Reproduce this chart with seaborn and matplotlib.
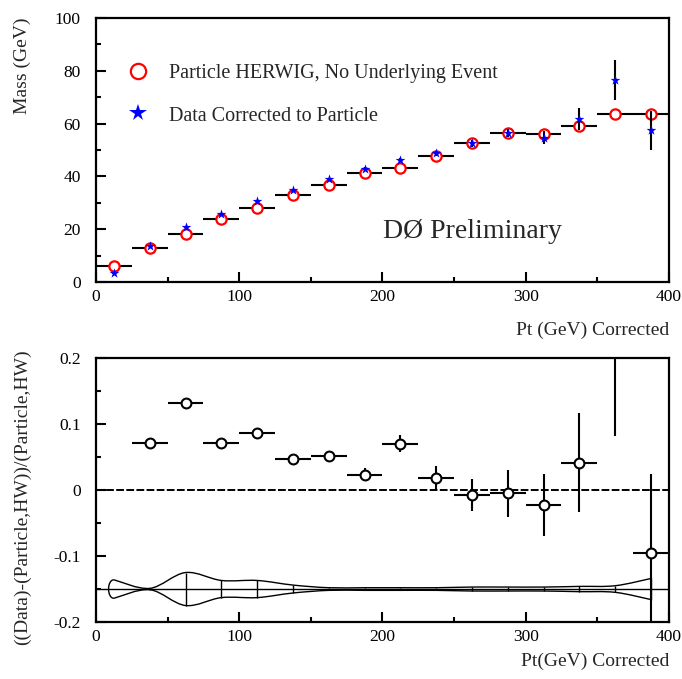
import matplotlib
matplotlib.use("Agg")
import matplotlib.pyplot as plt
import seaborn as sns
from matplotlib.lines import Line2D
from matplotlib.path import Path
from matplotlib.patches import PathPatch
from matplotlib.ticker import MultipleLocator

# bins in Pt (GeV), 25 GeV wide
pt_centers = [12.5, 37.5, 62.5, 87.5, 112.5, 137.5, 162.5, 187.5,
              212.5, 237.5, 262.5, 287.5, 312.5, 337.5, 362.5, 387.5]
bin_half = 12.5

herwig_mass = [6.2, 12.8, 18.3, 23.9, 27.9, 33.0, 36.7, 41.4,
               43.1, 47.7, 52.8, 56.6, 55.9, 59.2, 63.8, 63.5]
data_mass = [3.3, 13.8, 20.9, 25.6, 30.7, 34.7, 38.9, 42.7,
             46.2, 48.7, 52.5, 56.3, 54.7, 61.7, 76.4, 57.5]
data_mass_err = [0.3, 0.3, 0.4, 0.4, 0.5, 0.5, 0.6, 0.7,
                 0.8, 1.0, 1.2, 1.5, 2.5, 4.3, 7.6, 7.4]

# (Data - Particle)/Particle, first bin is off scale
ratio_pt = pt_centers[1:]
ratio = [0.071, 0.132, 0.071, 0.087, 0.047, 0.052, 0.023, 0.070,
         0.018, -0.008, -0.005, -0.022, 0.041, 0.21, -0.096]
ratio_err = [0.004, 0.004, 0.004, 0.005, 0.005, 0.006, 0.010, 0.013,
             0.018, 0.024, 0.036, 0.047, 0.075, 0.128, 0.120]

# systematic band drawn around -0.15
sys_base = -0.15
sys_half = [0.014, 0.001, 0.025, 0.013, 0.013, 0.006, 0.002, 0.002,
            0.002, 0.002, 0.003, 0.003, 0.003, 0.004, 0.005, 0.016]


def smooth_path(xs, ys):
    # cubic bezier segments through the points (catmull-rom style handles)
    verts = [(xs[0], ys[0])]
    codes = [Path.MOVETO]
    n = len(xs)
    for i in range(n - 1):
        x0, y0 = xs[max(i - 1, 0)], ys[max(i - 1, 0)]
        x3, y3 = xs[min(i + 2, n - 1)], ys[min(i + 2, n - 1)]
        verts += [(xs[i] + (xs[i + 1] - x0) / 6, ys[i] + (ys[i + 1] - y0) / 6),
                  (xs[i + 1] - (x3 - xs[i]) / 6, ys[i + 1] - (y3 - ys[i]) / 6),
                  (xs[i + 1], ys[i + 1])]
        codes += [Path.CURVE4] * 3
    return verts, codes


sns.set_style("ticks")
plt.rcParams["font.family"] = ["Liberation Serif", "DejaVu Serif"]

fig = plt.figure(figsize=(6.82, 6.79), dpi=100)
ax1 = fig.add_axes([0.1408, 0.5847, 0.840, 0.3888])
ax2 = fig.add_axes([0.1408, 0.0839, 0.840, 0.3888])

for ax in (ax1, ax2):
    ax.set_xlim(0, 400)
    ax.xaxis.set_major_locator(MultipleLocator(100))
    ax.xaxis.set_minor_locator(MultipleLocator(50))
    ax.tick_params(which="both", direction="in", top=False, right=False, width=1.5,
                   labelsize=12.5, colors="black")
    ax.tick_params(which="major", length=7)
    ax.tick_params(which="minor", length=3.5)
    ax.tick_params(axis="y", pad=11)
    ax.tick_params(axis="x", pad=5)
    for s in ax.spines.values():
        s.set_linewidth(1.6)
        s.set_color("black")

# ---- top panel
ax1.set_ylim(0, 100)
ax1.yaxis.set_major_locator(MultipleLocator(20))
ax1.yaxis.set_minor_locator(MultipleLocator(10))

ax1.errorbar(pt_centers, herwig_mass, xerr=bin_half, fmt="none", ecolor="black", elinewidth=1.5, zorder=2)
sns.scatterplot(x=pt_centers, y=herwig_mass, ax=ax1, marker="o", s=55, facecolor="white",
                edgecolor="red", linewidth=1.6, zorder=3)
ax1.errorbar(pt_centers, data_mass, yerr=data_mass_err, fmt="none", ecolor="black", elinewidth=1.5, zorder=3.5)
sns.scatterplot(x=pt_centers, y=data_mass, ax=ax1, marker="*", s=55, color="blue",
                linewidth=0, zorder=4)

handles = [
    Line2D([], [], ls="none", marker="o", ms=11, mfc="white", mec="red", mew=1.6),
    Line2D([], [], ls="none", marker="*", ms=13, color="blue", mew=0),
]
ax1.legend(handles, ["Particle HERWIG, No Underlying Event", "Data Corrected to Particle"],
           loc="upper left", bbox_to_anchor=(0.056, 0.825), frameon=False, fontsize=14.5,
           handlelength=1.0, handletextpad=1.05, labelspacing=1.15, borderpad=0, borderaxespad=0)

ax1.text(0.501, (282 - 238) / 264, "DØ Preliminary", transform=ax1.transAxes,
         fontsize=20, va="baseline", ha="left")

ax1.set_ylabel("Mass (GeV)", loc="top", fontsize=14)
ax1.yaxis.set_label_coords(-0.113, 1.0)
ax1.set_xlabel("Pt (GeV) Corrected", loc="right", fontsize=14)
ax1.xaxis.set_label_coords(1.0, -0.15)

# ---- bottom panel
ax2.set_ylim(-0.2, 0.2)
ax2.yaxis.set_minor_locator(MultipleLocator(0.05))
ax2.set_yticks([-0.2, -0.1, 0, 0.1, 0.2])
ax2.set_yticklabels(["-0.2", "-0.1", "0", "0.1", "0.2"])

ax2.axhline(0, color="black", lw=1.4, ls=(0, (4, 1.2)), zorder=1)
ax2.axhline(sys_base, color="black", lw=1.0, zorder=1)

upper = [sys_base + w for w in sys_half]
lower = [sys_base - w for w in sys_half]
v_up, c_up = smooth_path(pt_centers, upper)
v_lo, c_lo = smooth_path(pt_centers, lower)
ax2.add_patch(PathPatch(Path(v_up, c_up), fill=False, color="black", lw=1.0))
ax2.add_patch(PathPatch(Path(v_lo, c_lo), fill=False, color="black", lw=1.0))
# rounded cap on the left end of the band
cap = Path([(pt_centers[0], upper[0]), (pt_centers[0] - 5, upper[0]),
            (pt_centers[0] - 5, lower[0]), (pt_centers[0], lower[0])],
           [Path.MOVETO, Path.CURVE4, Path.CURVE4, Path.CURVE4])
ax2.add_patch(PathPatch(cap, fill=False, color="black", lw=1.0))
ax2.vlines(pt_centers[1:], lower[1:], upper[1:], color="black", lw=1.0)

ax2.errorbar(ratio_pt, ratio, xerr=bin_half, yerr=ratio_err, fmt="none", ecolor="black",
             elinewidth=1.5, zorder=2)
sns.scatterplot(x=ratio_pt, y=ratio, ax=ax2, marker="o", s=50, facecolor="white",
                edgecolor="black", linewidth=1.5, zorder=3)

ax2.set_ylabel("((Data)-(Particle,HW))/(Particle,HW)", fontsize=14)
ax2.yaxis.set_label_coords(-0.113, 0.473)
ax2.set_xlabel("Pt(GeV) Corrected", loc="right", fontsize=14)
ax2.xaxis.set_label_coords(1.0, -0.118)

fig.savefig("out.png", dpi=100)
